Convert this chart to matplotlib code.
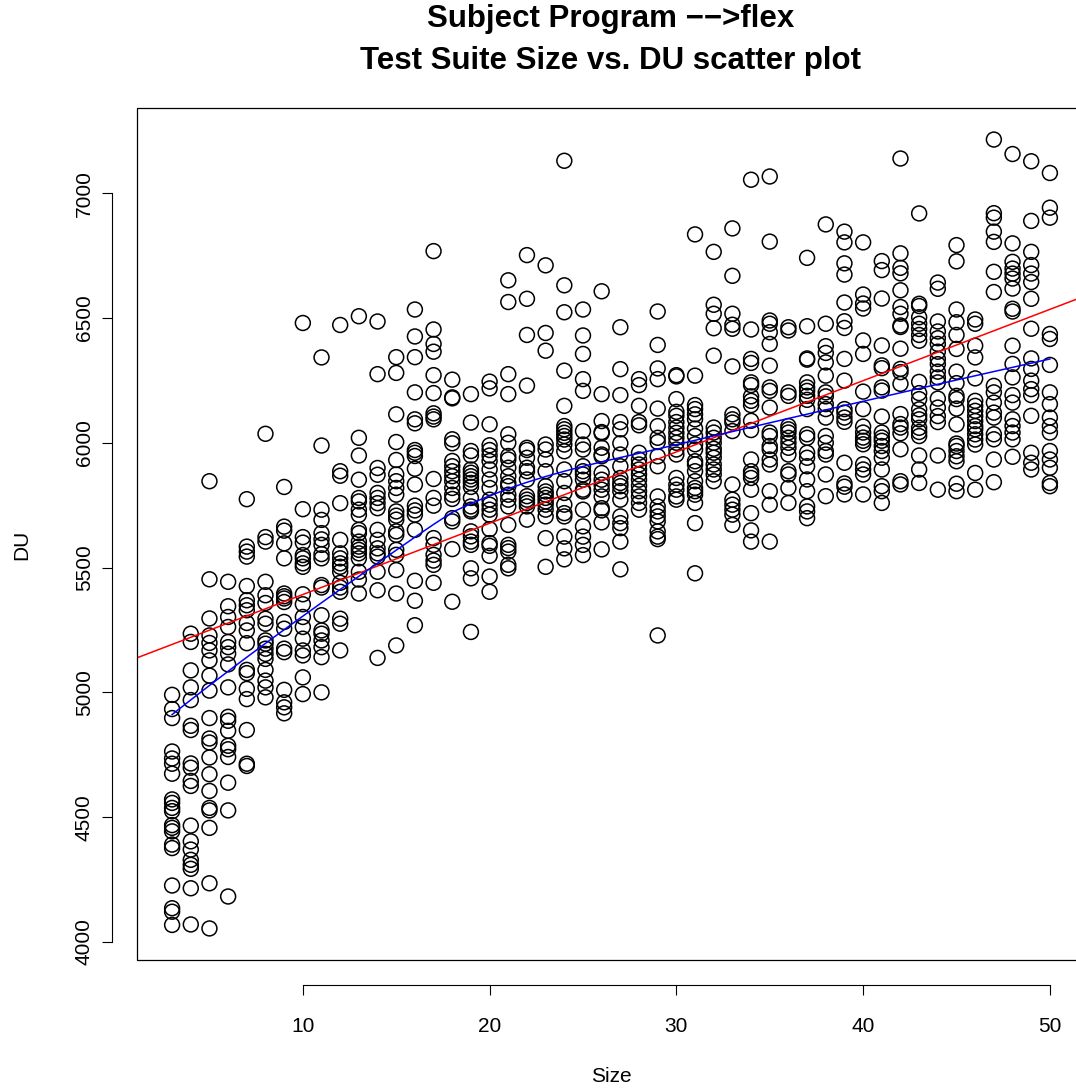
import numpy as np
import matplotlib
matplotlib.use("Agg")
import matplotlib.pyplot as plt
from matplotlib.patches import Rectangle

plt.rcParams['font.family'] = ['Liberation Sans', 'DejaVu Sans']

# DU values observed for each test suite size
du_3 = [4990, 4933, 4897, 4763, 4735, 4714, 4674, 4571, 4557, 4537, 4524, 4468, 4457, 4443, 4390, 4376, 4226, 4135, 4121, 4068]
du_4 = [5235, 5202, 5088, 5020, 4969, 4866, 4849, 4715, 4698, 4645, 4625, 4466, 4403, 4370, 4329, 4309, 4293, 4215, 4070]
du_5 = [5846, 5453, 5296, 5228, 5198, 5168, 5128, 5067, 5007, 4897, 4815, 4799, 4739, 4672, 4605, 4537, 4527, 4457, 4235, 4054]
du_6 = [5443, 5345, 5302, 5262, 5202, 5181, 5155, 5112, 5020, 4902, 4886, 4846, 4786, 4772, 4741, 4638, 4527, 4182]
du_7 = [5774, 5584, 5564, 5544, 5426, 5369, 5349, 5329, 5278, 5248, 5197, 5090, 5077, 5014, 4973, 4849, 4714, 4705]
du_8 = [6036, 5622, 5604, 5443, 5389, 5358, 5295, 5275, 5208, 5195, 5175, 5154, 5134, 5090, 5047, 5020, 4980]
du_9 = [5823, 5664, 5648, 5597, 5537, 5396, 5385, 5376, 5362, 5282, 5255, 5175, 5161, 5010, 4960, 4940, 4916]
du_10 = [6480, 5734, 5622, 5600, 5550, 5537, 5517, 5503, 5393, 5353, 5302, 5262, 5215, 5168, 5148, 5060, 4993]
du_11 = [6342, 5989, 5732, 5691, 5638, 5613, 5591, 5554, 5537, 5430, 5420, 5309, 5248, 5235, 5208, 5181, 5141, 5000]
du_12 = [6472, 5886, 5868, 5758, 5611, 5557, 5537, 5517, 5503, 5483, 5439, 5420, 5403, 5295, 5275, 5168]
du_13 = [6507, 6020, 5949, 5852, 5779, 5765, 5732, 5711, 5651, 5638, 5604, 5584, 5571, 5557, 5537, 5483, 5452, 5396]
du_14 = [6486, 6275, 5899, 5872, 5799, 5779, 5758, 5738, 5651, 5611, 5577, 5557, 5544, 5483, 5409, 5138]
du_15 = [6343, 6280, 6114, 6003, 5931, 5873, 5846, 5819, 5792, 5725, 5708, 5692, 5645, 5631, 5571, 5551, 5490, 5396, 5188]
du_16 = [6534, 6426, 6343, 6202, 6094, 6078, 5971, 5960, 5947, 5896, 5833, 5748, 5729, 5712, 5651, 5447, 5367, 5269]
du_17 = [6768, 6454, 6396, 6365, 6271, 6199, 6118, 6105, 6094, 5855, 5779, 5748, 5618, 5591, 5551, 5528, 5511, 5439]
du_18 = [6253, 6182, 6178, 6014, 5998, 5927, 5906, 5886, 5866, 5846, 5819, 5792, 5775, 5698, 5685, 5574, 5363]
du_19 = [6195, 6081, 5967, 5949, 5893, 5880, 5866, 5853, 5839, 5823, 5779, 5745, 5732, 5725, 5645, 5625, 5604, 5591, 5497, 5457, 5242]
du_20 = [6245, 6218, 6074, 5990, 5971, 5949, 5927, 5893, 5853, 5819, 5772, 5752, 5732, 5712, 5654, 5598, 5587, 5547, 5464, 5403]
du_21 = [6651, 6564, 6275, 6195, 6034, 6000, 5947, 5933, 5900, 5866, 5839, 5826, 5792, 5772, 5745, 5671, 5591, 5578, 5564, 5511, 5497]
du_22 = [6752, 6577, 6432, 6229, 5980, 5971, 5940, 5900, 5886, 5853, 5786, 5772, 5759, 5745, 5692]
du_23 = [6711, 6440, 6369, 5993, 5973, 5933, 5886, 5826, 5805, 5792, 5779, 5765, 5752, 5732, 5705, 5618, 5503]
du_24 = [7130, 6631, 6523, 6289, 6148, 6067, 6054, 6040, 6027, 6013, 5993, 5966, 5893, 5846, 5799, 5752, 5718, 5705, 5624, 5577, 5533]
du_25 = [6534, 6430, 6356, 6255, 6208, 6047, 5993, 5973, 5906, 5886, 5873, 5852, 5812, 5805, 5732, 5665, 5624, 5591, 5550]
du_26 = [6607, 6195, 6087, 6043, 6038, 5980, 5953, 5946, 5879, 5852, 5832, 5812, 5785, 5738, 5729, 5681, 5573]
du_27 = [6463, 6295, 6191, 6083, 6054, 5998, 5953, 5906, 5859, 5839, 5826, 5806, 5772, 5705, 5678, 5658, 5604, 5493]
du_28 = [6255, 6231, 6148, 6083, 6070, 5960, 5933, 5913, 5893, 5873, 5852, 5828, 5806, 5785, 5759, 5732]
du_29 = [6526, 6392, 6298, 6255, 6137, 6067, 6020, 6003, 5946, 5906, 5785, 5745, 5725, 5705, 5685, 5645, 5624, 5614, 5228]
du_30 = [6271, 6266, 6175, 6124, 6108, 6083, 6061, 6040, 6020, 6000, 5973, 5953, 5859, 5832, 5812, 5785, 5772]
du_31 = [6835, 6269, 6151, 6135, 6114, 6094, 6057, 6027, 5994, 5973, 5926, 5913, 5886, 5846, 5819, 5806, 5792, 5759, 5678, 5477]
du_32 = [6765, 6553, 6517, 6459, 6349, 6061, 6041, 6020, 6000, 5976, 5960, 5940, 5913, 5893, 5873, 5846]
du_33 = [6859, 6669, 6517, 6473, 6457, 6306, 6114, 6094, 6081, 6047, 5833, 5772, 5752, 5732, 5712, 5671]
du_34 = [7054, 6454, 6336, 6320, 6242, 6231, 6186, 6168, 6151, 6088, 6051, 5933, 5886, 5873, 5859, 5812, 5718, 5649, 5604]
du_35 = [7067, 6806, 6490, 6477, 6443, 6396, 6309, 6222, 6208, 6141, 6041, 6027, 5987, 5973, 5933, 5913, 5806, 5752, 5604]
du_36 = [6463, 6450, 6202, 6188, 6067, 6054, 6041, 6020, 6000, 5980, 5953, 5886, 5873, 5819, 5759]
du_37 = [6741, 6467, 6338, 6333, 6242, 6222, 6208, 6188, 6172, 6135, 6034, 6020, 5960, 5940, 5906, 5853, 5806, 5745, 5725, 5698]
du_38 = [6875, 6477, 6387, 6360, 6322, 6269, 6202, 6186, 6155, 6135, 6101, 6027, 6000, 5967, 5953, 5873, 5786]
du_39 = [6846, 6803, 6719, 6674, 6562, 6487, 6460, 6336, 6249, 6135, 6121, 6101, 6084, 5920, 5837, 5824, 5793]
du_40 = [6803, 6594, 6558, 6538, 6410, 6356, 6205, 6135, 6065, 6041, 6021, 6008, 5994, 5914, 5893, 5873, 5793]
du_41 = [6728, 6692, 6578, 6390, 6310, 6299, 6222, 6209, 6105, 6041, 6021, 6008, 5987, 5967, 5940, 5893, 5826, 5806, 5759]
du_42 = [7139, 6759, 6701, 6679, 6611, 6544, 6517, 6470, 6464, 6377, 6296, 6283, 6236, 6115, 6075, 6061, 6038, 5974, 5846, 5833]
du_43 = [6919, 6557, 6548, 6503, 6477, 6456, 6432, 6409, 6244, 6199, 6175, 6134, 6110, 6094, 6060, 6043, 6027, 5949, 5893, 5839]
du_44 = [6642, 6617, 6486, 6446, 6419, 6396, 6365, 6336, 6315, 6285, 6262, 6242, 6177, 6141, 6107, 6083, 5949, 5812]
du_45 = [6792, 6727, 6534, 6483, 6432, 6376, 6285, 6239, 6188, 6175, 6137, 6074, 5997, 5987, 5967, 5946, 5926, 5836, 5806]
du_46 = [6494, 6477, 6389, 6342, 6258, 6168, 6148, 6128, 6107, 6087, 6067, 6054, 6034, 6013, 5993, 5879, 5812]
du_47 = [7215, 6920, 6902, 6846, 6805, 6685, 6604, 6228, 6202, 6161, 6121, 6101, 6034, 6014, 5933, 5842]
du_48 = [7157, 6799, 6725, 6698, 6678, 6658, 6618, 6537, 6526, 6389, 6316, 6262, 6191, 6161, 6094, 6067, 6041, 6014, 5944]
du_49 = [7128, 6889, 6765, 6712, 6678, 6644, 6577, 6457, 6338, 6296, 6249, 6215, 6191, 6108, 5960, 5920, 5893]
du_50 = [7081, 6942, 6902, 6436, 6416, 6312, 6202, 6155, 6101, 6067, 6041, 5967, 5933, 5900, 5839, 5826]

sizes = list(range(3, 51))
du_columns = [du_3, du_4, du_5, du_6, du_7, du_8, du_9, du_10, du_11, du_12, du_13,
              du_14, du_15, du_16, du_17, du_18, du_19, du_20, du_21, du_22, du_23,
              du_24, du_25, du_26, du_27, du_28, du_29, du_30, du_31, du_32, du_33,
              du_34, du_35, du_36, du_37, du_38, du_39, du_40, du_41, du_42, du_43,
              du_44, du_45, du_46, du_47, du_48, du_49, du_50]

x = np.concatenate([[s] * len(col) for s, col in zip(sizes, du_columns)]).astype(float)
y = np.concatenate(du_columns).astype(float)


def lowess(x, y, f=2 / 3, iters=3):
    # locally weighted linear fit with robustness iterations (like R's lowess)
    n = len(x)
    r = int(np.ceil(f * n))
    ux = np.unique(x)
    rw = np.ones(n)
    for it in range(iters + 1):
        fit_u = np.empty(len(ux))
        for i, x0 in enumerate(ux):
            d = np.abs(x - x0)
            h = np.sort(d)[r - 1]
            u = np.clip(d / h, 0, 1)
            w = (1 - u ** 3) ** 3 * rw
            sw = w.sum()
            xm = (w * x).sum() / sw
            ym = (w * y).sum() / sw
            sxx = (w * (x - xm) ** 2).sum()
            b = (w * (x - xm) * (y - ym)).sum() / sxx if sxx > 0 else 0.0
            fit_u[i] = ym + b * (x0 - xm)
        if it == iters:
            break
        res = y - np.interp(x, ux, fit_u)
        s = np.median(np.abs(res))
        u = np.clip(res / (6 * s), -1, 1)
        rw = (1 - u ** 2) ** 2
    return ux, fit_u


fig = plt.figure(figsize=(10.76, 10.92), dpi=100)
ax = fig.add_axes([137 / 1076, 1 - 960 / 1092, 948 / 1076, 852 / 1092])

ax.scatter(x, y, s=115, facecolors='none', edgecolors='black', linewidths=1.1, zorder=2)

# linear fit (red) and lowess smoother (blue)
slope, intercept = np.polyfit(x, y, 1)
ax.axline((0, intercept), slope=slope, color='red', linewidth=1.1, zorder=3)
lx, ly = lowess(x, y)
ax.plot(lx, ly, color='blue', linewidth=1.1, zorder=3)

xr = x.max() - x.min()
yr = y.max() - y.min()
ax.set_xlim(x.min() - 0.04 * xr, x.max() + 0.04 * xr)
ax.set_ylim(y.min() - 0.04 * yr, y.max() + 0.04 * yr)

# box around the plot region
ax.add_patch(Rectangle((0, 0), 1, 1, transform=ax.transAxes, fill=False,
                       edgecolor='black', linewidth=0.9, clip_on=False, zorder=4))

for side in ['top', 'right']:
    ax.spines[side].set_visible(False)
ax.spines['bottom'].set_position(('outward', 18))
ax.spines['left'].set_position(('outward', 18))
ax.spines['bottom'].set_bounds(10, 50)
ax.spines['left'].set_bounds(4000, 7000)
ax.spines['bottom'].set_linewidth(0.8)
ax.spines['left'].set_linewidth(0.8)

ax.set_xticks([10, 20, 30, 40, 50])
ax.set_yticks([4000, 4500, 5000, 5500, 6000, 6500, 7000])
ax.tick_params(axis='both', direction='out', length=7, width=0.8, labelsize=15)
ax.tick_params(axis='x', pad=16)
ax.tick_params(axis='y', pad=6)
for lab in ax.get_yticklabels():
    lab.set_rotation(90)
    lab.set_va('center')

fig.text(611 / 1076, 1 - 19 / 1092, "Subject Program \u2212\u2212>flex", ha='center', va='center',
         fontsize=22.5, fontweight='bold')
fig.text(611 / 1076, 1 - 61 / 1092, "Test Suite Size vs. DU scatter plot", ha='center', va='center',
         fontsize=22.5, fontweight='bold')
fig.text(611 / 1076, 1 - 1077 / 1092, "Size", ha='center', va='center', fontsize=15)
fig.text(22 / 1076, 1 - 545 / 1092, "DU", ha='center', va='center', fontsize=15, rotation=90)

fig.savefig("out.png", dpi=100)
